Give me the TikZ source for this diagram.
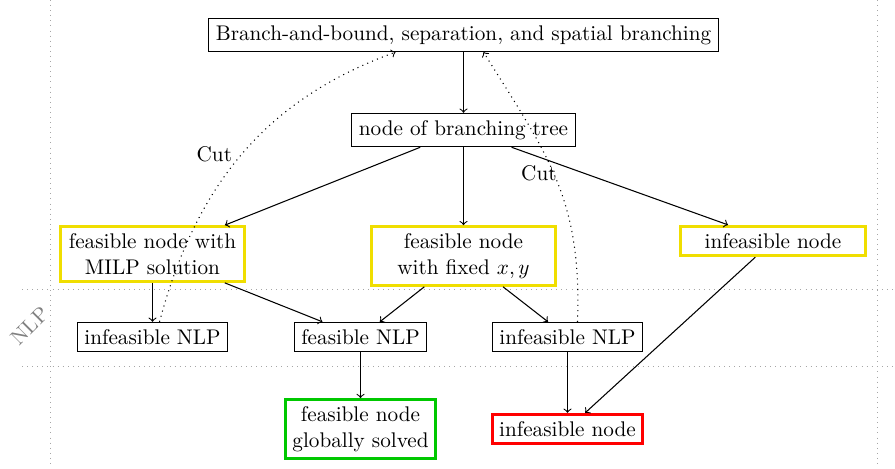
\documentclass[tikz,border=0pt]{standalone}
\usetikzlibrary{positioning}
\definecolor{myyellow}{RGB}{240,222,0}
\definecolor{mygreen}{RGB}{0,200,0}
\definecolor{myred}{RGB}{255,0,0}
\tikzset{
  box/.style={draw, align=center, line width=0.5pt},
  ybox/.style={draw=myyellow, line width=1.4pt, align=center, minimum width=87pt},
  gbox/.style={draw=mygreen, line width=1.4pt, align=center},
  rbox/.style={draw=myred, line width=1.4pt, align=center},
  guide/.style={draw=gray!70, dotted, line width=0.4pt},
  conn/.style={->, line width=0.5pt},
  cut/.style={->, dotted, line width=0.5pt},
}
\begin{document}
\begin{tikzpicture}[x=0.4717pt, y=-0.4717pt]
\useasboundingbox (0,0) rectangle (895,468);
% guides
\draw[guide] (50.5,0) -- (50.5,468);
\draw[guide] (877.5,0) -- (877.5,468);
\draw[guide] (22,289.5) -- (895,289.5);
\draw[guide] (22,366.5) -- (895,366.5);
\node[text=gray, rotate=45] (nlp) at (30,326) {NLP};
% nodes
\node[box] (top) at (463.5,35) {Branch-and-bound, separation, and spatial branching};
\node[box] (tree) at (463.5,130) {node of branching tree};
\node[ybox] (milp) at (152.5,254) {feasible node with\\MILP solution};
\node[ybox] (fixed) at (463.5,256) {feasible node\\with fixed $x,y$};
\node[ybox] (yinf) at (773,241) {infeasible node};
\node[box] (inlpl) at (152.5,337) {infeasible NLP};
\node[box] (fnlp) at (360.5,337) {feasible NLP};
\node[box] (inlpr) at (567.5,337) {infeasible NLP};
\node[gbox] (solved) at (360.5,429) {feasible node\\globally solved};
\node[rbox] (rinf) at (567.5,429) {infeasible node};
% connectors
\draw[conn] (top) -- (tree);
\draw[conn] (tree) -- (milp);
\draw[conn] (tree) -- (fixed);
\draw[conn] (tree) -- (yinf);
\draw[conn] (milp) -- (inlpl);
\draw[conn] (milp) -- (fnlp);
\draw[conn] (fixed) -- (fnlp);
\draw[conn] (fixed) -- (inlpr);
\draw[conn] (fnlp) -- (solved);
\draw[conn] (inlpr) -- (rinf);
\draw[conn] (yinf) -- (rinf);
% cuts
\draw[cut] ([xshift=7*0.4717pt]inlpl.north) to[out=75,in=200] node[pos=0.5, left, xshift=-1pt] (cutl) {Cut} ([xshift=-68*0.4717pt]top.south);
\draw[cut] ([xshift=10*0.4717pt]inlpr.north) to[out=88,in=-58, looseness=1.1] node[pos=0.53, left, xshift=5pt] (cutr) {Cut} ([xshift=20*0.4717pt]top.south);
\end{tikzpicture}
\end{document}
